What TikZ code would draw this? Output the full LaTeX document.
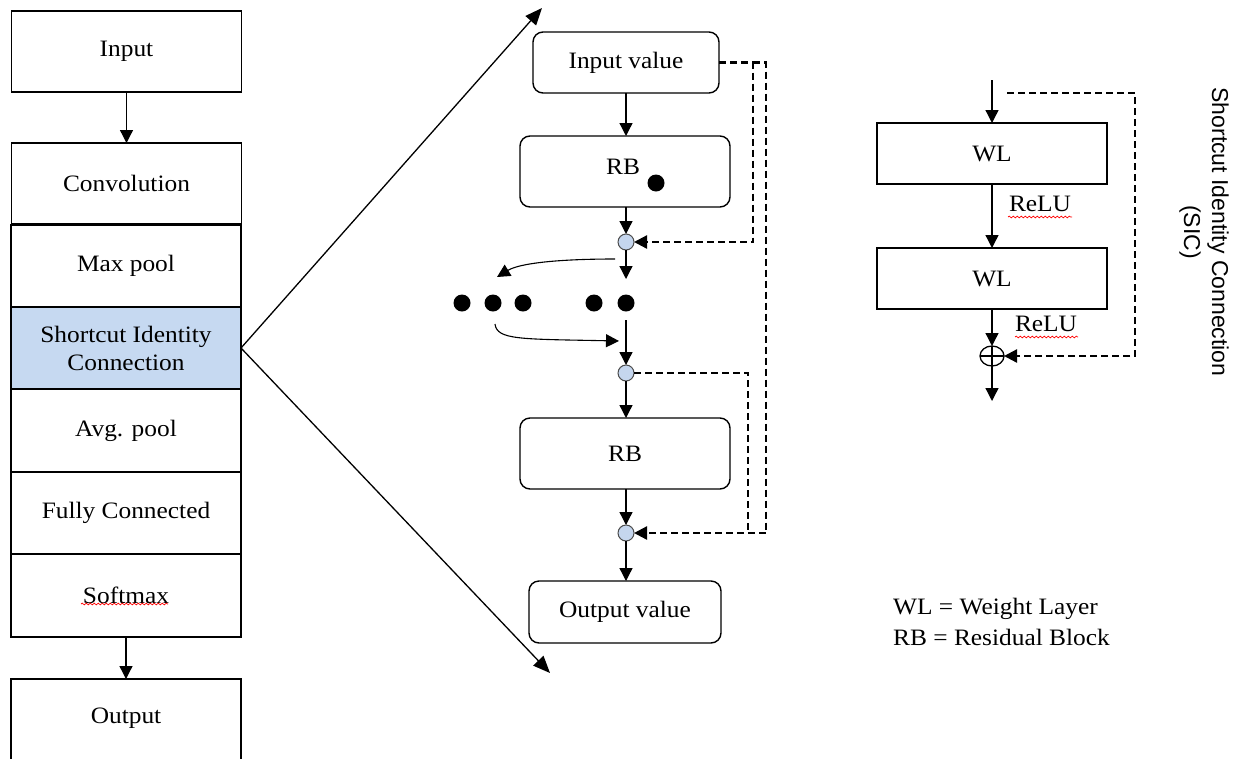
\documentclass[tikz,border=0pt]{standalone}
\usepackage{fontspec}
\setmainfont{Liberation Serif}[FakeStretch=1.08]
\newfontfamily\sicfont{Liberation Sans}
\usetikzlibrary{arrows.meta,shapes.geometric,decorations.pathmorphing}
\definecolor{sicblue}{HTML}{C6D9F1}
\definecolor{nodeblue}{HTML}{C5D6EE}
\begin{document}
\begin{tikzpicture}[x=1pt,y=-1pt,
  txt/.style={font=\fontsize{23.5}{28}\selectfont},
  layer/.style={draw, line width=1.5pt, minimum width=230pt, outer sep=0pt, inner sep=0pt, align=center, txt},
  rbox/.style={draw, line width=1.4pt, rounded corners=10pt, outer sep=0pt, inner sep=0pt, txt},
  wlbox/.style={draw, line width=1.4pt, minimum width=230pt, minimum height=61pt, outer sep=0pt, inner sep=0pt, txt},
  junc/.style={circle, draw=black!70, fill=nodeblue, line width=1pt, minimum size=16pt, inner sep=0pt, outer sep=0pt},
  bigdot/.style={circle, fill=black, minimum size=17pt, inner sep=0pt},
  arr/.style={line width=1.3pt, -{Triangle[length=13pt,width=13pt]}},
  bigarr/.style={line width=1.3pt, -{Triangle[length=17pt,width=14pt]}},
  dsh/.style={line width=2.3pt, dash pattern=on 7pt off 4pt},
  dsharr/.style={dsh, -{Triangle[length=13pt,width=13pt]}},
  squig/.style={red, line width=0.7pt, decorate, decoration={snake, segment length=4pt, amplitude=0.9pt}}
]
\useasboundingbox (0,0) rectangle (1236,758);

% ---------------- left column ----------------
\node[layer, minimum height=81pt] (in) at (126.5,51.5) {Input};
\node[layer, minimum height=81pt] (conv) at (126.5,183.5) {Convolution};
\node[layer, minimum height=82pt] (mp) at (126,266) {Max pool};
\node[layer, minimum height=82pt, fill=sicblue] (sic) at (126,348) {Shortcut Identity\\Connection};
\node[layer, minimum height=82pt] (avg) at (126,430.5) {Avg. pool};
\node[layer, minimum height=82pt] (fc) at (126,513) {Fully Connected};
\node[layer, minimum height=83pt] (sm) at (126,595.5) {Softmax};
\node[layer, minimum height=92pt, anchor=north] (out) at (126,679) {};
\node[txt] (outtxt) at (126,718) {Output};
\draw[arr] (in.south) -- (conv.north);
\draw[arr] (sm.south) -- (out.north);
\draw[squig] (81,604) -- (168,604);

% zoom lines
\coordinate (zt) at (542,8);
\coordinate (zb) at (550,673);
\draw[bigarr] (sic.east) -- (zt);
\draw[bigarr] (sic.east) -- (zb);

% ---------------- middle ----------------
\node[rbox, minimum width=186pt, minimum height=61pt] (inval) at (626,62.5) {Input value};
\node[rbox, minimum width=210pt, minimum height=71pt] (rb1) at (625,171.5) {};
\node[txt] (rb1t) at (623,167) {RB};
\node[bigdot] (rbdot) at (656,183) {};
\node[junc] (c1) at (626,242) {};
\coordinate (d1) at (626,279);
\node[bigdot] (p1) at (462,303) {};
\node[bigdot] (p2) at (493,303) {};
\node[bigdot] (p3) at (523,303) {};
\node[bigdot] (p4) at (594,303) {};
\node[bigdot] (p5) at (626,303) {};
\coordinate (d2) at (626,320);
\node[junc] (c2) at (626,373) {};
\node[rbox, minimum width=210pt, minimum height=71pt] (rb2) at (625,453.5) {RB};
\node[junc] (c3) at (626,533) {};
\node[rbox, minimum width=192pt, minimum height=62pt] (outval) at (625,612) {Output value};

\draw[arr] (inval.south -| c1) -- (rb1.north -| c1);
\draw[arr] (rb1.south -| c1) -- (c1.north);
\draw[arr] (c1.south) -- (d1);
\draw[arr] (d2) -- (c2.north);
\draw[arr] (c2.south) -- (rb2.north -| c2);
\draw[arr] (rb2.south -| c3) -- (c3.north);
\draw[arr] (c3.south) -- (outval.north -| c3);

\coordinate (ca1) at (615,259);
\coordinate (ca2) at (497,277);
\draw[arr, line width=1.1pt] (ca1) .. controls (560,259) and (520,263) .. (ca2);
\coordinate (cb1) at (495,324);
\coordinate (cb2) at (619,341);
\draw[arr, line width=1.1pt] (cb1) .. controls (497,340) and (520,339) .. (cb2);

\coordinate (k1) at (753,62.5);
\coordinate (k2) at (766,62.5);
\coordinate (k3) at (748,533);
\draw[dsharr] (inval.east) -- (k1) |- (c1.east);
\draw[dsharr] (k1) -- (k2) |- (c3.east);
\draw[dsh] (c2.east) -| (k3);

% ---------------- right ----------------
\coordinate (wtop) at (992,80);
\node[wlbox] (wl1) at (992,153.5) {WL};
\node[wlbox] (wl2) at (992,278.5) {WL};
\node[ellipse, draw, line width=1.3pt, minimum width=24pt, minimum height=20pt, inner sep=0pt, outer sep=0pt] (op) at (992,356) {};
\draw[line width=1.3pt] (op.north) -- (op.south) (op.west) -- (op.east);
\coordinate (wbot) at (992,401);
\draw[arr] (wtop) -- (wl1.north);
\draw[arr] (wl1.south) -- (wl2.north);
\draw[arr] (wl2.south) -- (op.north);
\draw[arr] (op.south) -- (wbot);
\node[txt] (relu1) at (1040,204) {ReLU};
\node[txt] (relu2) at (1046,324) {ReLU};
\draw[squig] (1008,217) -- (1072,217);
\draw[squig] (1015,337) -- (1078,337);
\coordinate (s1) at (1007,93);
\coordinate (s2) at (1135,93);
\draw[dsharr] (s1) -- (s2) |- (op.east);

\node[rotate=-90, align=center, font=\sicfont\fontsize{23}{28}\selectfont] (siclab) at (1204,232) {Shortcut Identity Connection\\(SIC)};

% legend
\node[txt, anchor=west, inner sep=0pt] (leg1) at (893,609) {WL = Weight Layer};
\node[txt, anchor=west, inner sep=0pt] (leg2) at (893,637) {RB = Residual Block};
\end{tikzpicture}
\end{document}
